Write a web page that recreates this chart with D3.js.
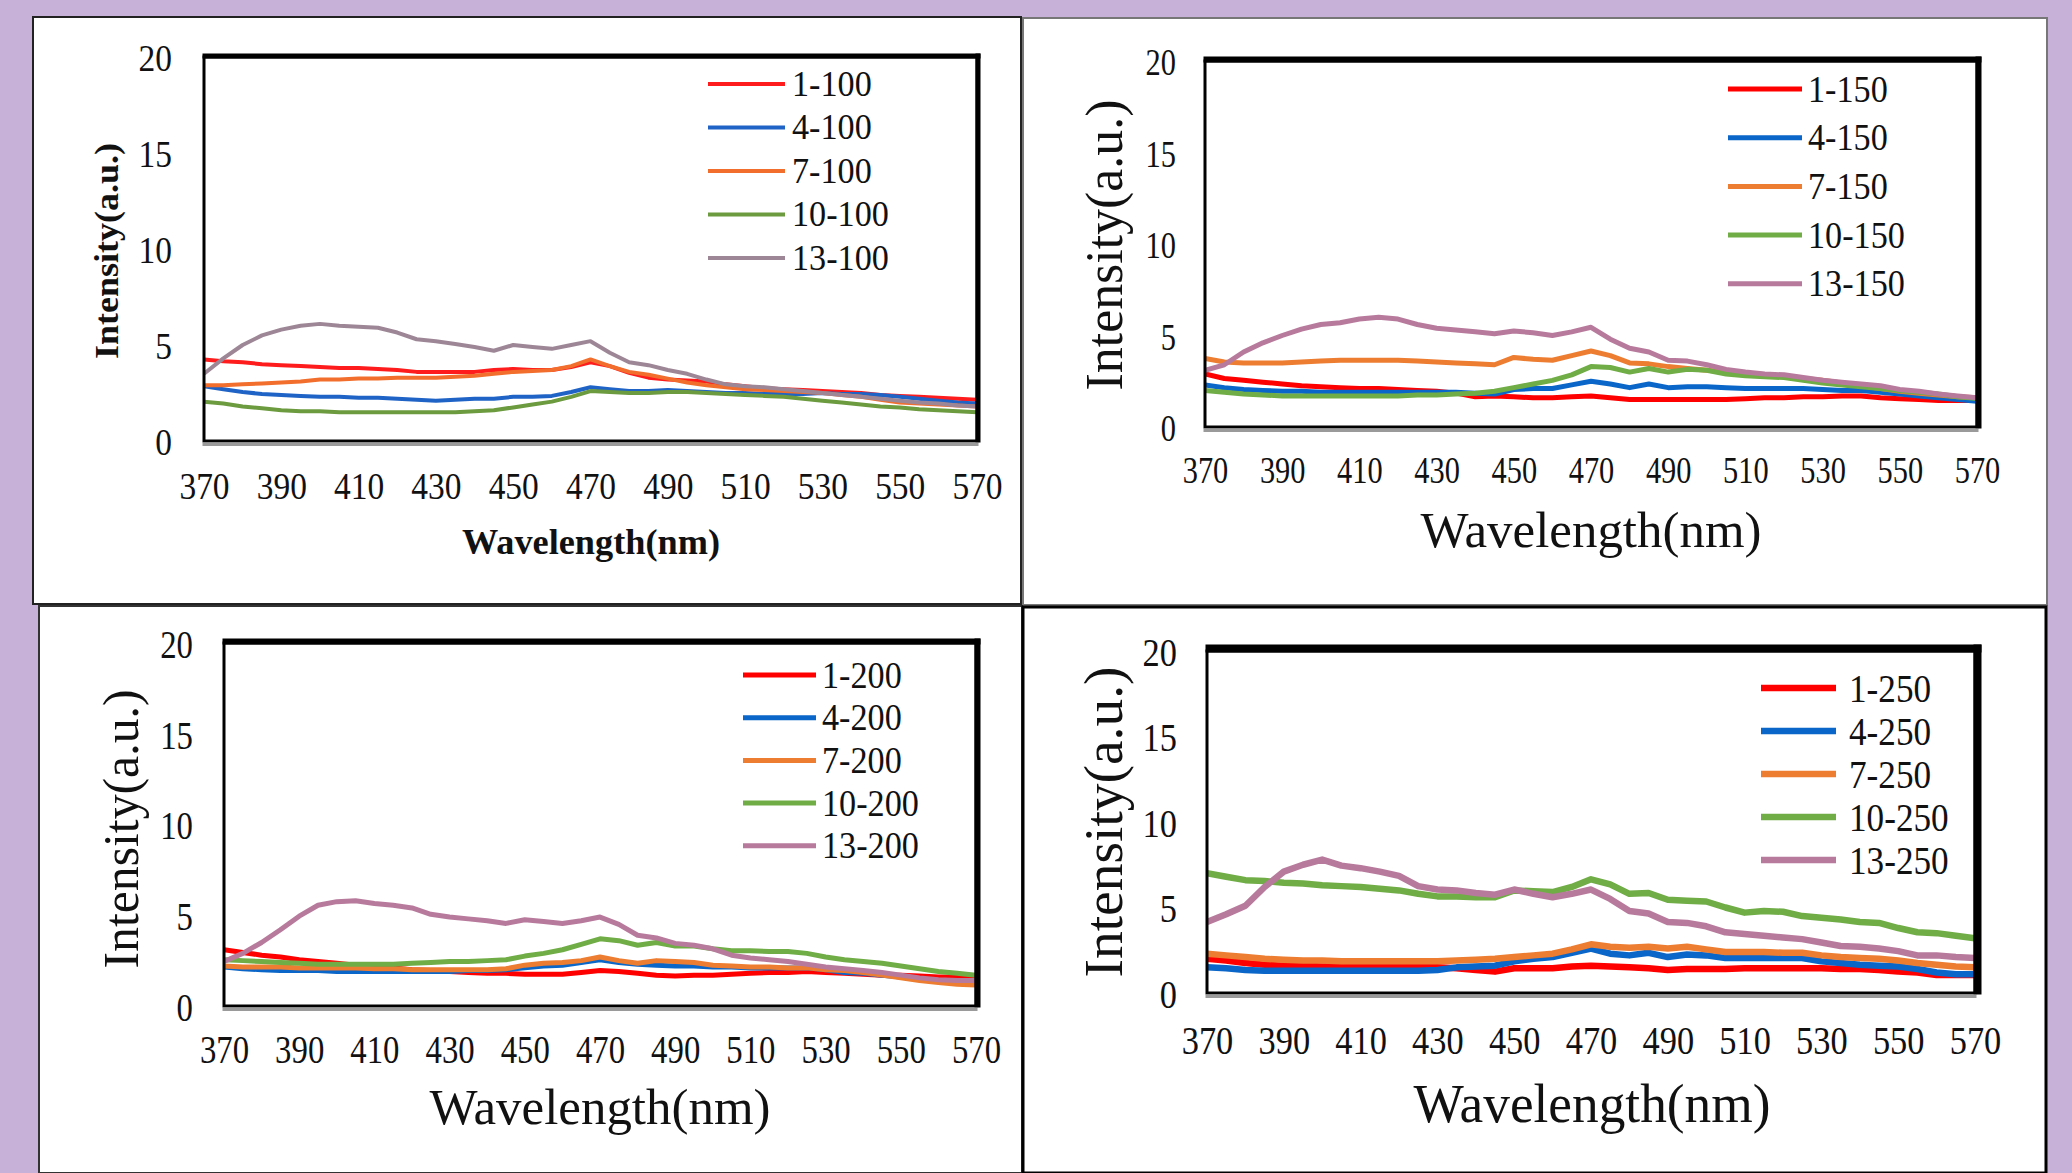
<!DOCTYPE html>
<html>
<head>
<meta charset="utf-8">
<script src="https://cdn.jsdelivr.net/npm/d3@7/dist/d3.min.js"></script>
<style>
  html, body { margin: 0; padding: 0; background: #c8b1d9; }
  svg { display: block; }
</style>
</head>
<body>
<svg id="fig" width="2072" height="1173"></svg>
<script>
// ---- shared axes ----
const wavelength = [370,375,380,385,390,395,400,405,410,415,420,425,430,435,440,445,450,455,460,465,
                    470,475,480,485,490,495,500,505,510,515,520,525,530,535,540,545,550,555,560,565,570];
const xTicks = [370,390,410,430,450,470,490,510,530,550,570];
const yTicks = [0,5,10,15,20];

// ---- 100 series ----
const labels100 = ["1-100","4-100","7-100","10-100","13-100"];
const s1_100  = [4.25,4.15,4.1,4.0,3.95,3.9,3.85,3.8,3.8,3.75,3.7,3.6,3.6,3.6,3.6,3.7,3.75,3.7,3.7,3.85,4.1,3.9,3.55,3.3,3.2,3.15,3.1,2.95,2.85,2.75,2.7,2.65,2.6,2.55,2.5,2.4,2.35,2.3,2.25,2.2,2.15];
const s4_100  = [2.85,2.7,2.55,2.45,2.4,2.35,2.3,2.3,2.25,2.25,2.2,2.15,2.1,2.15,2.2,2.2,2.3,2.3,2.35,2.55,2.8,2.7,2.6,2.6,2.65,2.6,2.55,2.5,2.5,2.45,2.45,2.45,2.5,2.45,2.45,2.4,2.3,2.2,2.1,2.0,1.95];
const s7_100  = [2.9,2.9,2.95,3.0,3.05,3.1,3.2,3.2,3.25,3.25,3.3,3.3,3.3,3.35,3.4,3.5,3.6,3.65,3.7,3.9,4.25,3.9,3.6,3.45,3.25,3.05,2.9,2.8,2.7,2.65,2.6,2.55,2.5,2.4,2.3,2.15,2.0,1.95,1.9,1.85,1.8];
const s10_100 = [2.05,1.95,1.8,1.7,1.6,1.55,1.55,1.5,1.5,1.5,1.5,1.5,1.5,1.5,1.55,1.6,1.75,1.9,2.05,2.3,2.6,2.55,2.5,2.5,2.55,2.55,2.5,2.45,2.4,2.35,2.3,2.2,2.1,2.0,1.9,1.8,1.75,1.65,1.6,1.55,1.5];
const s13_100 = [3.5,4.3,5.0,5.5,5.8,6.0,6.1,6.0,5.95,5.9,5.65,5.3,5.2,5.05,4.9,4.7,5.0,4.9,4.8,5.0,5.2,4.6,4.1,3.95,3.7,3.5,3.2,2.95,2.85,2.8,2.7,2.6,2.5,2.4,2.3,2.2,2.1,2.0,1.95,1.85,1.8];

// ---- 150 series ----
const labels150 = ["1-150","4-150","7-150","10-150","13-150"];
const s1_150  = [2.9,2.65,2.55,2.45,2.35,2.25,2.2,2.15,2.1,2.1,2.05,2.0,1.95,1.85,1.65,1.7,1.65,1.6,1.6,1.65,1.7,1.6,1.5,1.5,1.5,1.5,1.5,1.5,1.55,1.6,1.6,1.65,1.65,1.7,1.7,1.6,1.55,1.5,1.45,1.45,1.45];
const s4_150  = [2.3,2.15,2.05,2.0,1.95,1.95,1.9,1.9,1.9,1.9,1.9,1.9,1.9,1.9,1.85,1.8,2.05,2.1,2.1,2.3,2.5,2.35,2.15,2.35,2.15,2.2,2.2,2.15,2.1,2.1,2.1,2.1,2.05,2.0,2.0,1.9,1.8,1.7,1.6,1.5,1.4];
const s7_150  = [3.75,3.55,3.5,3.5,3.5,3.55,3.6,3.65,3.65,3.65,3.65,3.6,3.55,3.5,3.45,3.4,3.8,3.7,3.65,3.9,4.15,3.9,3.5,3.45,3.3,3.2,3.1,3.0,2.95,2.85,2.75,2.65,2.55,2.4,2.25,2.1,1.95,1.85,1.75,1.65,1.6];
const s10_150 = [2.0,1.9,1.8,1.75,1.7,1.7,1.7,1.7,1.7,1.7,1.7,1.75,1.75,1.8,1.85,1.95,2.15,2.35,2.55,2.85,3.3,3.25,3.0,3.2,3.0,3.15,3.1,2.9,2.8,2.75,2.7,2.55,2.4,2.3,2.2,2.1,2.0,1.9,1.8,1.65,1.55];
const s13_150 = [3.1,3.4,4.1,4.6,5.0,5.35,5.6,5.7,5.9,6.0,5.9,5.6,5.4,5.3,5.2,5.1,5.25,5.15,5.0,5.2,5.45,4.8,4.3,4.1,3.65,3.6,3.4,3.15,3.0,2.9,2.85,2.7,2.55,2.45,2.35,2.25,2.05,1.95,1.8,1.7,1.6];

// ---- 200 series ----
const labels200 = ["1-200","4-200","7-200","10-200","13-200"];
const s1_200  = [3.1,2.95,2.8,2.7,2.55,2.45,2.35,2.25,2.15,2.1,2.0,1.95,1.9,1.85,1.8,1.8,1.75,1.75,1.75,1.85,1.95,1.9,1.8,1.7,1.65,1.7,1.7,1.75,1.8,1.85,1.85,1.9,1.85,1.8,1.75,1.7,1.7,1.65,1.6,1.6,1.6];
const s4_200  = [2.15,2.05,2.0,1.95,1.95,1.95,1.9,1.9,1.9,1.9,1.9,1.9,1.9,1.95,1.95,2.0,2.1,2.2,2.25,2.4,2.55,2.4,2.3,2.25,2.2,2.2,2.15,2.15,2.1,2.1,2.1,2.1,2.0,1.85,1.8,1.7,1.6,1.5,1.4,1.3,1.25];
const s7_200  = [2.2,2.15,2.15,2.15,2.1,2.1,2.1,2.1,2.05,2.05,2.0,2.0,2.0,2.0,2.0,2.05,2.25,2.35,2.4,2.5,2.7,2.5,2.35,2.5,2.45,2.4,2.25,2.2,2.15,2.15,2.1,2.1,2.0,1.95,1.85,1.7,1.55,1.4,1.3,1.2,1.15];
const s10_200 = [2.55,2.5,2.45,2.4,2.35,2.3,2.3,2.3,2.3,2.3,2.35,2.4,2.45,2.45,2.5,2.55,2.75,2.9,3.1,3.4,3.7,3.6,3.35,3.5,3.3,3.3,3.15,3.05,3.05,3.0,3.0,2.9,2.7,2.55,2.45,2.35,2.2,2.05,1.9,1.8,1.7];
const s13_200 = [2.45,2.9,3.5,4.2,4.95,5.55,5.75,5.8,5.65,5.55,5.4,5.05,4.9,4.8,4.7,4.55,4.75,4.65,4.55,4.7,4.9,4.5,3.9,3.75,3.45,3.35,3.15,2.8,2.65,2.55,2.45,2.3,2.15,2.05,1.95,1.85,1.7,1.55,1.45,1.4,1.4];

// ---- 250 series ----
const labels250 = ["1-250","4-250","7-250","10-250","13-250"];
const s1_250  = [2.0,1.9,1.75,1.65,1.6,1.6,1.55,1.55,1.55,1.55,1.55,1.5,1.5,1.45,1.35,1.25,1.45,1.45,1.45,1.55,1.6,1.55,1.5,1.45,1.35,1.4,1.4,1.4,1.45,1.45,1.45,1.45,1.45,1.4,1.4,1.35,1.25,1.2,1.05,1.05,1.05];
const s4_250  = [1.5,1.45,1.35,1.3,1.3,1.3,1.3,1.3,1.3,1.3,1.3,1.3,1.35,1.5,1.55,1.6,1.85,2.0,2.1,2.35,2.6,2.3,2.2,2.35,2.1,2.25,2.2,2.05,2.05,2.05,2.05,2.05,1.85,1.75,1.65,1.6,1.55,1.4,1.2,1.1,1.1];
const s7_250  = [2.3,2.2,2.1,2.0,1.95,1.9,1.9,1.85,1.85,1.85,1.85,1.85,1.85,1.9,1.95,2.0,2.1,2.2,2.3,2.55,2.85,2.7,2.65,2.7,2.6,2.7,2.55,2.4,2.4,2.4,2.35,2.35,2.2,2.1,2.05,2.0,1.9,1.75,1.65,1.55,1.5];
const s10_250 = [7.0,6.8,6.6,6.55,6.45,6.4,6.3,6.25,6.2,6.1,6.0,5.8,5.65,5.65,5.6,5.6,6.0,5.95,5.9,6.2,6.65,6.35,5.8,5.85,5.45,5.4,5.35,5.0,4.7,4.8,4.75,4.5,4.4,4.3,4.15,4.1,3.8,3.55,3.5,3.35,3.2];
const s13_250 = [4.15,4.6,5.1,6.2,7.1,7.5,7.8,7.45,7.3,7.1,6.85,6.25,6.05,6.0,5.85,5.75,6.05,5.8,5.6,5.8,6.05,5.5,4.8,4.65,4.15,4.1,3.9,3.55,3.45,3.35,3.25,3.15,2.95,2.75,2.7,2.6,2.45,2.2,2.2,2.1,2.05];

// ---- colours ----
const coloursMuted = ["#ff1c1c", "#1f63c6", "#f26e2c", "#6c9a3f", "#9d8796"];
const coloursExcel = ["#ff0000", "#0a66c8", "#ed7d31", "#70ad47", "#b87a9c"];

// ---- panel geometry and styling ----
const layouts = [
  { panel: [33, 17, 988, 587], border: "#222", bw: 2,
    plot: [204, 977, 57, 441], lw: 4, thick: 5,
    tickFont: 38, tickSx: 0.88, yTickX: 172, xTickY: 485,
    yTitle: { x: 106, cy: 251, len: 216, size: 34, weight: "bold" },
    xTitle: { cx: 591, y: 542, len: 258, size: 36, weight: "bold" },
    legend: { x1: 708, x2: 785, tx: 792, y0: 84, dy: 43.5, size: 36, sx: 0.95 } },
  { panel: [1023, 18, 1024, 587], border: "#777", bw: 2,
    plot: [1205, 1977, 61, 427], lw: 5, thick: 6,
    tickFont: 38, tickSx: 0.8, yTickX: 1176, xTickY: 469,
    yTitle: { x: 1104, cy: 245, len: 291, size: 52, weight: "normal" },
    xTitle: { cx: 1591, y: 530, len: 341, size: 50, weight: "normal" },
    legend: { x1: 1728, x2: 1802, tx: 1808, y0: 89, dy: 48.7, size: 38, sx: 0.9 } },
  { panel: [39, 606, 983, 567], border: "#333", bw: 2,
    plot: [224, 976, 643, 1006], lw: 5, thick: 6,
    tickFont: 40, tickSx: 0.82, yTickX: 193, xTickY: 1049,
    yTitle: { x: 121, cy: 829, len: 279, size: 50, weight: "normal" },
    xTitle: { cx: 600, y: 1107, len: 341, size: 50, weight: "normal" },
    legend: { x1: 743, x2: 816, tx: 822, y0: 675, dy: 42.7, size: 38, sx: 0.9 } },
  { panel: [1023, 607, 1023, 566], border: "#000", bw: 3,
    plot: [1207, 1975, 651, 993], lw: 6.5, thick: 8,
    tickFont: 40, tickSx: 0.86, yTickX: 1177, xTickY: 1040,
    yTitle: { x: 1104, cy: 822, len: 311, size: 54, weight: "normal" },
    xTitle: { cx: 1592, y: 1104, len: 357, size: 54, weight: "normal" },
    legend: { x1: 1761, x2: 1836, tx: 1849, y0: 688, dy: 43, size: 40, sx: 0.88 } }
];

const panels = [
  { labels: labels100, series: [s1_100, s4_100, s7_100, s10_100, s13_100], colours: coloursMuted },
  { labels: labels150, series: [s1_150, s4_150, s7_150, s10_150, s13_150], colours: coloursExcel },
  { labels: labels200, series: [s1_200, s4_200, s7_200, s10_200, s13_200], colours: coloursExcel },
  { labels: labels250, series: [s1_250, s4_250, s7_250, s10_250, s13_250], colours: coloursExcel }
];

const FONT = "'Liberation Serif', 'Times New Roman', serif";
const svg = d3.select("#fig");

svg.append("rect").attr("width", 2072).attr("height", 1173).attr("fill", "#c8b1d9");

panels.forEach((p, pi) => {
  const L = layouts[pi];
  const [l, r, t, b] = L.plot;
  const g = svg.append("g");

  // white card
  g.append("rect")
    .attr("x", L.panel[0]).attr("y", L.panel[1])
    .attr("width", L.panel[2]).attr("height", L.panel[3])
    .attr("fill", "#ffffff").attr("stroke", L.border).attr("stroke-width", L.bw);

  const x = d3.scaleLinear().domain([370, 570]).range([l, r]);
  const y = d3.scaleLinear().domain([0, 20]).range([b, t]);

  const clipId = "clip" + pi;
  g.append("clipPath").attr("id", clipId)
    .append("rect").attr("x", l).attr("y", t).attr("width", r - l).attr("height", b - t);

  const line = d3.line().x(d => x(d[0])).y(d => y(d[1]));

  const lines = g.append("g").attr("clip-path", `url(#${clipId})`);
  p.series.forEach((vals, si) => {
    lines.append("path")
      .datum(wavelength.map((w, i) => [w, vals[i]]))
      .attr("d", line)
      .attr("fill", "none")
      .attr("stroke", p.colours[si])
      .attr("stroke-width", L.lw)
      .attr("stroke-linejoin", "round")
      .attr("stroke-linecap", "butt");
  });

  // plot frame: thin box, heavy top/right edge, grey shadow under the base
  g.append("rect").attr("x", l).attr("y", t).attr("width", r - l).attr("height", b - t)
    .attr("fill", "none").attr("stroke", "#000").attr("stroke-width", 3);
  g.append("rect").attr("x", l - 1.5).attr("y", t - L.thick + 1.5)
    .attr("width", r - l + L.thick).attr("height", L.thick).attr("fill", "#000");
  g.append("rect").attr("x", r - 1.5).attr("y", t - L.thick + 1.5)
    .attr("width", L.thick).attr("height", b - t + L.thick).attr("fill", "#000");
  g.append("rect").attr("x", l - 1.5).attr("y", b + 1.5)
    .attr("width", r - l + 3).attr("height", 3.5).attr("fill", "#9a9a9a");

  // x axis labels
  const ax = g.append("g").attr("transform", `translate(0,${L.xTickY})`)
    .call(d3.axisBottom(x).tickValues(xTicks).tickSize(0).tickPadding(0).tickFormat(d3.format("d")));
  ax.select(".domain").remove();
  ax.selectAll("text")
    .attr("y", 0).attr("dy", "0.36em")
    .attr("transform", `scale(${L.tickSx},1)`)
    .style("font-family", FONT).style("font-size", L.tickFont + "px").attr("fill", "#111");

  // y axis labels
  const ay = g.append("g").attr("transform", `translate(${L.yTickX},0)`)
    .call(d3.axisLeft(y).tickValues(yTicks).tickSize(0).tickPadding(0).tickFormat(d3.format("d")));
  ay.select(".domain").remove();
  ay.selectAll("text")
    .attr("x", 0).attr("dy", "0.36em")
    .attr("transform", `scale(${L.tickSx},1)`)
    .style("font-family", FONT).style("font-size", L.tickFont + "px").attr("fill", "#111");

  // axis titles
  g.append("text")
    .attr("transform", `translate(${L.yTitle.x},${L.yTitle.cy}) rotate(-90)`)
    .attr("text-anchor", "middle").attr("dominant-baseline", "central")
    .attr("textLength", L.yTitle.len).attr("lengthAdjust", "spacingAndGlyphs")
    .style("font-family", FONT).style("font-size", L.yTitle.size + "px")
    .style("font-weight", L.yTitle.weight).attr("fill", "#111")
    .text("Intensity(a.u.)");

  g.append("text")
    .attr("x", L.xTitle.cx).attr("y", L.xTitle.y)
    .attr("text-anchor", "middle").attr("dominant-baseline", "central")
    .attr("textLength", L.xTitle.len).attr("lengthAdjust", "spacingAndGlyphs")
    .style("font-family", FONT).style("font-size", L.xTitle.size + "px")
    .style("font-weight", L.xTitle.weight).attr("fill", "#111")
    .text("Wavelength(nm)");

  // legend
  const lg = g.append("g");
  p.labels.forEach((lab, si) => {
    const yy = L.legend.y0 + si * L.legend.dy;
    lg.append("line")
      .attr("x1", L.legend.x1).attr("x2", L.legend.x2)
      .attr("y1", yy).attr("y2", yy)
      .attr("stroke", p.colours[si]).attr("stroke-width", L.lw);
    lg.append("text")
      .attr("transform", `translate(${L.legend.tx},${yy}) scale(${L.legend.sx},1)`)
      .attr("dominant-baseline", "central")
      .style("font-family", FONT).style("font-size", L.legend.size + "px").attr("fill", "#111")
      .text(lab);
  });
});
</script>
</body>
</html>
